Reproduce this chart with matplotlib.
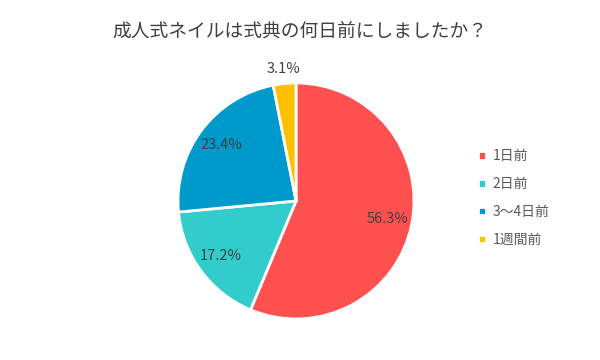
import matplotlib.pyplot as plt

plt.rcParams['font.family'] = ['Noto Sans CJK JP', 'DejaVu Sans']

labels = ["1日前", "2日前", "3～4日前", "1週間前"]
values = [56.3, 17.2, 23.4, 3.1]
colors = ["#FF5050", "#33CCCC", "#0099CC", "#FFC000"]

fig = plt.figure(figsize=(6, 3.6), dpi=100)
ax = fig.add_axes([0.2967, 0.114, 0.3933, 0.6556])

wedges, texts, autotexts = ax.pie(
    values,
    colors=colors,
    startangle=90,
    counterclock=False,
    autopct="%.1f%%",
    pctdistance=0.79,
    wedgeprops=dict(edgecolor="white", linewidth=2),
    textprops=dict(color="#404040", fontsize=10.5),
)
# the small slice gets its label outside
x, y = autotexts[3].get_position()
autotexts[3].set_position((x / 0.79 * 1.12, y / 0.79 * 1.12))
ax.set_xlim(-1, 1)
ax.set_ylim(-1, 1)
ax.set_aspect("equal")

fig.text(0.5, 0.915, "成人式ネイルは式典の何日前にしましたか？",
         ha="center", va="center", fontsize=13.5, color="#404040")

leg = fig.legend(wedges, labels, loc="center left", bbox_to_anchor=(0.775, 0.45),
                 frameon=False, handlelength=0.6, handleheight=0.6,
                 handletextpad=0.5, labelspacing=1.0, fontsize=10,
                 labelcolor="#595959")

fig.savefig("out.png", dpi=100)
